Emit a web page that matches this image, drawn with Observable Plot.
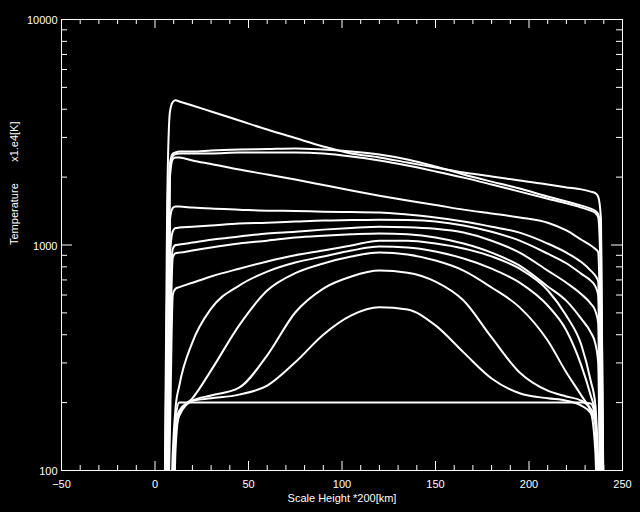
<!DOCTYPE html>
<html>
<head>
<meta charset="utf-8">
<script src="https://cdn.jsdelivr.net/npm/d3@7"></script>
<script src="https://cdn.jsdelivr.net/npm/@observablehq/plot@0.6"></script>
<style>
  html, body { margin: 0; padding: 0; background: #000; }
  #chart { width: 640px; height: 512px; overflow: hidden; }
</style>
</head>
<body>
<div id="chart"></div>
<script>
// Scale height (x, units of 200 km) shared by all profiles
const heights = [5, 6.5, 8, 9.5, 11, 13, 20, 30, 45, 60, 75, 90, 105, 120, 135, 150, 165, 180, 195, 210, 220, 228, 233, 235.5, 237, 238.5, 240];

// Temperature profiles (values below 100 fall outside the axis)
const profile01 = [50, 50, 50, 50, 170, 200, 200, 200, 200, 200, 200, 200, 200, 200, 200, 200, 200, 200, 200, 200, 200, 200, 198, 170, 50, 50, 50];
const profile02 = [50, 50, 50, 50, 125, 180, 204, 209, 217, 238, 302, 400, 487, 529, 517, 440, 334, 256, 220, 209, 204, 194, 180, 120, 50, 50, 50];
const profile03 = [50, 50, 50, 50, 145, 175, 204, 215, 233, 324, 502, 641, 725, 770, 754, 688, 567, 389, 272, 226, 213, 204, 188, 168, 50, 50, 50];
const profile04 = [50, 50, 50, 80, 165, 184, 209, 278, 440, 628, 750, 828, 889, 926, 907, 853, 770, 648, 529, 377, 272, 215, 184, 160, 60, 50, 50];
const profile05 = [50, 50, 50, 120, 190, 238, 370, 522, 661, 762, 836, 889, 945, 984, 975, 935, 871, 786, 681, 539, 418, 292, 215, 178, 90, 50, 50];
const profile06 = [50, 50, 150, 600, 640, 650, 680, 725, 785, 845, 900, 945, 995, 1045, 1045, 1015, 965, 890, 785, 630, 485, 360, 250, 195, 110, 50, 50];
const profile07 = [50, 50, 300, 880, 920, 925, 945, 975, 1015, 1045, 1080, 1100, 1115, 1125, 1115, 1080, 1015, 925, 810, 655, 565, 470, 410, 365, 300, 50, 50];
const profile08 = [50, 50, 500, 960, 1000, 1005, 1025, 1055, 1090, 1125, 1145, 1170, 1190, 1205, 1200, 1180, 1135, 1045, 925, 770, 680, 605, 550, 510, 450, 60, 50];
const profile09 = [50, 50, 900, 1150, 1190, 1195, 1205, 1220, 1245, 1255, 1270, 1285, 1290, 1295, 1290, 1270, 1220, 1145, 1045, 915, 830, 745, 695, 655, 600, 90, 50];
const profile10 = [50, 60, 1300, 1460, 1480, 1480, 1465, 1450, 1435, 1420, 1415, 1405, 1400, 1395, 1365, 1325, 1270, 1205, 1135, 1015, 925, 840, 770, 730, 690, 150, 50];
const profile11 = [50, 90, 2000, 2400, 2445, 2445, 2370, 2285, 2160, 2055, 1950, 1845, 1745, 1655, 1575, 1505, 1435, 1380, 1325, 1255, 1160, 1055, 995, 960, 930, 300, 50];
const profile12 = [50, 150, 2200, 2480, 2530, 2545, 2545, 2545, 2570, 2570, 2570, 2545, 2470, 2370, 2250, 2120, 1990, 1855, 1725, 1605, 1530, 1465, 1420, 1385, 1330, 600, 50];
const profile13 = [50, 700, 2300, 2540, 2575, 2600, 2600, 2625, 2650, 2665, 2680, 2650, 2600, 2520, 2395, 2230, 2055, 1910, 1780, 1640, 1560, 1495, 1450, 1415, 1370, 1100, 50];
const profile14 = [50, 1500, 3900, 4300, 4380, 4330, 4155, 3910, 3565, 3250, 2980, 2735, 2545, 2445, 2320, 2205, 2095, 2015, 1930, 1855, 1800, 1765, 1725, 1700, 1640, 1300, 50];

const profiles = [profile01, profile02, profile03, profile04, profile05, profile06, profile07,
                  profile08, profile09, profile10, profile11, profile12, profile13, profile14];

// Axis ticks and labels
const xMajor = [-50, 0, 50, 100, 150, 200, 250];
const xMajorLabels = ["\u221250", "0", "50", "100", "150", "200", "250"];
const xMinor = d3.range(-50, 251, 10).filter(v => v % 50 !== 0);
const yMajor = [100, 1000, 10000];
const yMajorLabels = ["100", "1000", "10000"];
const yMinor = [200, 300, 400, 500, 600, 700, 800, 900, 2000, 3000, 4000, 5000, 6000, 7000, 8000, 9000];

const xTitle = "Scale Height *200[km]";
const yTitle = "Temperature\u00a0\u00a0\u00a0\u00a0\u00a0\u00a0\u00a0x1.e4[K]";

const rows = [];
profiles.forEach((p, k) => heights.forEach((h, i) => rows.push({k, h, t: p[i]})));

const W = 640, H = 512, ML = 61, MR = 18, MT = 19, MB = 42;
const PW = W - ML - MR, PH = H - MT - MB;
const majX = 9, minX = 5, majY = 11, minY = 6;
const tickStyle = {stroke: "white", strokeWidth: 1};

const chart = Plot.plot({
  width: W, height: H,
  marginLeft: ML, marginRight: MR, marginTop: MT, marginBottom: MB,
  style: {background: "black", color: "white", fontFamily: "'Liberation Sans', Arial, sans-serif", fontSize: "11px"},
  x: {domain: [-50, 250], axis: null},
  y: {type: "log", domain: [100, 10000], axis: null},
  marks: [
    Plot.line(rows, {x: "h", y: "t", z: "k", stroke: "white", strokeWidth: 2, curve: "monotone-x", clip: true}),
    Plot.frame({stroke: "white", strokeWidth: 1}),
    // x ticks bottom & top
    Plot.ruleX(xMajor, {...tickStyle, insetTop: PH - majX}),
    Plot.ruleX(xMinor, {...tickStyle, insetTop: PH - minX}),
    Plot.ruleX(xMajor, {...tickStyle, insetBottom: PH - majX}),
    Plot.ruleX(xMinor, {...tickStyle, insetBottom: PH - minX}),
    // y ticks left & right
    Plot.ruleY(yMajor, {...tickStyle, insetRight: PW - majY}),
    Plot.ruleY(yMinor, {...tickStyle, insetRight: PW - minY}),
    Plot.ruleY(yMajor, {...tickStyle, insetLeft: PW - majY}),
    Plot.ruleY(yMinor, {...tickStyle, insetLeft: PW - minY}),
    // tick labels
    Plot.text(xMajor, {x: d => d, text: (d, i) => xMajorLabels[i], frameAnchor: "bottom", dy: 14, lineAnchor: "middle", fill: "white"}),
    Plot.text(yMajor, {y: d => d, text: (d, i) => yMajorLabels[i], frameAnchor: "left", dx: -4, dy: 1, textAnchor: "end", lineAnchor: "middle", fill: "white"}),
    // titles
    Plot.text([xTitle], {text: d => d, frameAnchor: "bottom", dy: 28, lineAnchor: "middle", fill: "white"}),
    Plot.text([yTitle], {text: d => d, frameAnchor: "left", dx: -47, rotate: -90, lineAnchor: "middle", fill: "white"})
  ]
});
document.getElementById("chart").appendChild(chart);
</script>
</body>
</html>
